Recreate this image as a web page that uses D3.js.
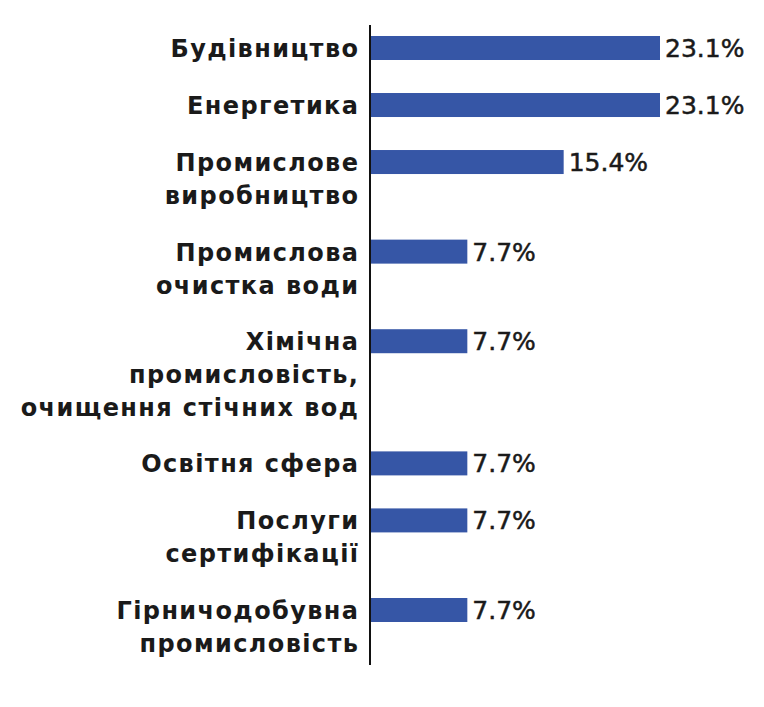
<!DOCTYPE html>
<html>
<head>
<meta charset="utf-8">
<script src="https://cdn.jsdelivr.net/npm/d3@7"></script>
<style>
  body { margin: 0; background: #fff; }
</style>
</head>
<body>
<div id="chart"></div>
<script>
// частка за галузями
var labelLines = [
  ["Будівництво"],
  ["Енергетика"],
  ["Промислове", "виробництво"],
  ["Промислова", "очистка води"],
  ["Хімічна", "промисловість,", "очищення стічних вод"],
  ["Освітня сфера"],
  ["Послуги", "сертифікації"],
  ["Гірничодобувна", "промисловість"]
];
var values = [23.1, 23.1, 15.4, 7.7, 7.7, 7.7, 7.7, 7.7];

var barColor = "#3656a6";

var svg = d3.select("#chart")
  .append("svg")
  .attr("width", 764)
  .attr("height", 707);

// кожна категорія займає стільки рядків, скільки має підпис, плюс проміжок
var gap = 0.75;
var starts = [];
var acc = 0;
labelLines.forEach(function(l) { starts.push(acc); acc += l.length + gap; });

var y = d3.scaleLinear()
  .domain([0, starts[starts.length - 1]])
  .range([48, 610]);

var x = d3.scaleLinear()
  .domain([0, 23.1])
  .range([371, 660]);

var barH = 24;

svg.selectAll("rect.bar")
  .data(values)
  .enter().append("rect")
  .attr("class", "bar")
  .attr("x", x(0))
  .attr("y", function(d, i) { return y(starts[i]) - barH / 2; })
  .attr("width", function(d) { return x(d) - x(0); })
  .attr("height", barH)
  .attr("fill", barColor);

svg.selectAll("text.val")
  .data(values)
  .enter().append("text")
  .attr("class", "val")
  .attr("x", function(d) { return x(d) + 5; })
  .attr("y", function(d, i) { return y(starts[i]) + 9; })
  .text(function(d) { return d3.format(".1f")(d) + "%"; })
  .attr("font-family", "DejaVu Sans")
  .style("font-size", "25px")
  .attr("fill", "#1a1a1a")
  .style("stroke", "#1a1a1a")
  .style("stroke-width", 0.5);

var ls = 1.4;
var lab = svg.selectAll("text.lab")
  .data(labelLines)
  .enter().append("text")
  .attr("class", "lab")
  .attr("text-anchor", "end")
  .attr("font-family", "DejaVu Sans")
  .attr("font-weight", "bold")
  .style("font-size", "24px")
  .style("letter-spacing", ls + "px")
  .attr("fill", "#1a1a1a");

lab.each(function(lines, i) {
  var t = d3.select(this);
  lines.forEach(function(s, k) {
    t.append("tspan")
      .attr("x", 358 + ls)
      .attr("y", y(starts[i]) + 9 + k * 33)
      .text(s);
  });
});

// вертикальна вісь
svg.append("line")
  .attr("x1", x(0) - 1)
  .attr("x2", x(0) - 1)
  .attr("y1", 25)
  .attr("y2", 665)
  .style("stroke", "#111")
  .style("stroke-width", 2);
</script>
</body>
</html>
